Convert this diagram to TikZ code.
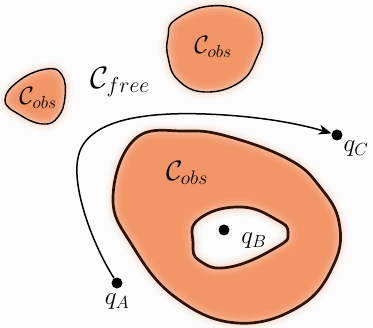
\RequirePackage{fix-cm}
\documentclass[tikz,border=0pt]{standalone}
\usetikzlibrary{arrows.meta}
\definecolor{obsfill}{RGB}{243,150,103}
\definecolor{ringline}{RGB}{45,18,5}
\definecolor{bg}{RGB}{252,252,252}
\tikzset{
  blobline/.style={draw=black, line width=1.4pt},
  ringedge/.style={draw=ringline, line width=2.7pt},
  dotnode/.style={circle, fill=black, inner sep=0pt, minimum size=11pt},
  lbl/.style={inner sep=0pt, font=\fontsize{25}{29}\selectfont},
  biglbl/.style={inner sep=0pt, font=\fontsize{28}{32}\selectfont},
  freelbl/.style={inner sep=0pt, font=\fontsize{31}{35}\selectfont},
  qlbl/.style={inner sep=0pt, font=\fontsize{25}{29}\selectfont},
  conn/.style={line width=1.5pt, -{Stealth[length=13pt,width=10pt,inset=4pt]}},
}
\def\blobL{plot[smooth cycle, tension=0.75] coordinates {(47,69) (62,75) (65,97) (58,117) (43,124) (20,115) (5,100) (20,80)}}
\def\blobT{plot[smooth cycle, tension=0.75] coordinates {(175,20) (210,6) (247,13) (262,33) (257,57) (240,82) (205,92) (178,80) (168,57) (168,37)}}
\def\ringO{plot[smooth cycle, tension=0.7] coordinates {(113,197) (132,245) (175,297) (237,323) (300,306) (334,264) (339,222) (320,187) (290,160) (230,137) (185,131) (135,139)}}
\def\ringI{plot[smooth cycle, tension=0.8] coordinates {(193,243) (199,219) (240,207) (277,220) (288,233) (277,247) (230,267) (200,261)}}
\newcommand\outerglow[1]{%
  \foreach \w/\o in {16/0.04, 11/0.06, 7/0.09, 3/0.13}{\draw[obsfill, line width=\w pt, opacity=\o] #1;}}
\newcommand\innerglow[2]{%
  \foreach \w/\o in {18/0.05, 12/0.08, 7/0.13, 3/0.2}{\draw[#2, line width=\w pt, opacity=\o] #1;}}
\begin{document}
\begin{tikzpicture}[x=1pt, y=-1pt]
\fill[bg] (0,0) rectangle (373,328);
\useasboundingbox (0,0) rectangle (373,328);
% left blob
\outerglow{\blobL}
\fill[obsfill] \blobL;
\begin{scope}\clip \blobL; \innerglow{\blobL}{white} \end{scope}
\draw[blobline] \blobL;
% top blob
\outerglow{\blobT}
\fill[obsfill] \blobT;
\begin{scope}\clip \blobT; \innerglow{\blobT}{white} \end{scope}
\draw[blobline] \blobT;
% ring
\outerglow{\ringO}
\fill[obsfill, even odd rule] \ringO \ringI;
\begin{scope}\clip \ringO; \innerglow{\ringO}{white} \innerglow{\ringI}{white} \end{scope}
\begin{scope}\clip \ringI; \fill[bg] \ringI; \innerglow{\ringI}{obsfill} \end{scope}
\draw[ringedge] \ringO;
\draw[ringedge] \ringI;
% labels
\node[lbl] (tL) at (38,98) {$\mathcal{C}_{obs}$};
\node[lbl] (tT) at (213,47) {$\mathcal{C}_{obs}$};
\node[biglbl] (tR) at (187,173) {$\mathcal{C}_{obs}$};
\node[freelbl] (tF) at (120,82) {$\mathcal{C}_{free}$};
% points
\node[dotnode] (qA) at (117,283) {};
\node[dotnode] (qB) at (224,230) {};
\node[dotnode] (qC) at (337,135) {};
\node[qlbl] (lA) at (117,302) {$q_A$};
\node[qlbl] (lB) at (254,241) {$q_B$};
\node[qlbl] (lC) at (356,149) {$q_C$};
% path
\draw[conn] (qA) .. controls (90,240) and (72,185) .. (78,158) .. controls (85,118) and (150,112) .. (205,114) .. controls (260,116) and (300,124) .. (qC);
\end{tikzpicture}
\end{document}
